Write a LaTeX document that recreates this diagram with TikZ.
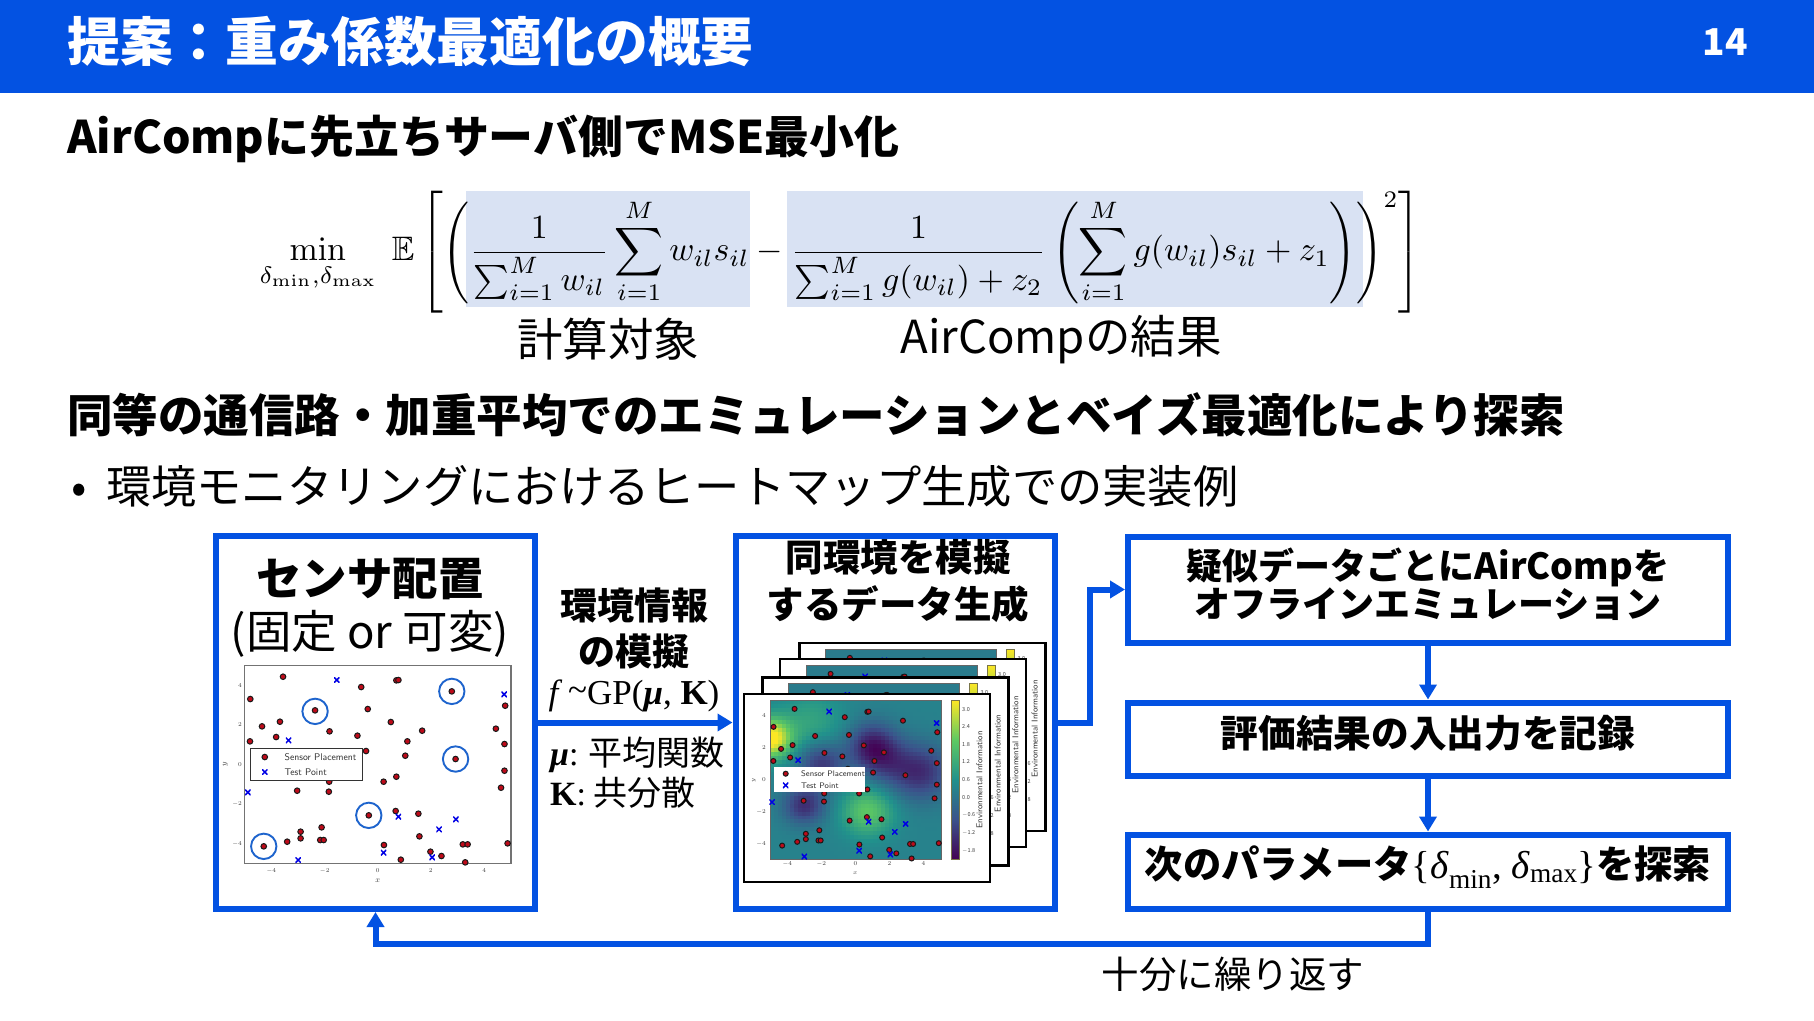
\documentclass[tikz,border=0pt]{standalone}
\usepackage{amsmath,amssymb}
\usepackage[no-math]{fontspec}
\setmainfont{Noto Sans CJK JP}
\newfontfamily\serifjp{Liberation Serif}
\usetikzlibrary{arrows.meta,calc}
\definecolor{slideblue}{RGB}{3,82,226}
\definecolor{ringblue}{RGB}{30,100,205}
\definecolor{eqbg}{RGB}{217,226,243}
\definecolor{ptred}{RGB}{190,10,25}
\definecolor{v0}{RGB}{68,1,84}
\definecolor{v1}{RGB}{59,82,139}
\definecolor{v2}{RGB}{33,145,140}
\definecolor{v3}{RGB}{94,201,98}
\definecolor{v4}{RGB}{253,231,37}
\pgfdeclareverticalshading{viridisbar}{100bp}{color(0bp)=(v0); color(25bp)=(v0); color(37.5bp)=(v1); color(50bp)=(v2); color(62.5bp)=(v3); color(75bp)=(v4); color(100bp)=(v4)}
\newcommand\fsz[2]{\fontsize{#1}{#2}\selectfont}
\newcommand\GB[4]{+(#4)*exp(-((\X-(#1))^2+(\Y-(#2))^2)/(2*(#3)^2))}
\newcommand\VIR[5]{\fpeval{round(\V<.25 ? #1+(#2-#1)*\V/.25 : (\V<.5 ? #2+(#3-#2)*(\V-.25)/.25 : (\V<.75 ? #3+(#4-#3)*(\V-.5)/.25 : #4+(#5-#4)*(\V-.75)/.25)),3)}}
\newcommand\sensorpts[1]{%
  \foreach \px/\py in {334/571,731/514,742/717,490/886,185/979,241/470,468/501,570/481,576/480,146/537,487/567,886/557,232/605,180/619,554/606,645/632,859/626,376/634,221/651,457/647,145/664,602/664,884/672,482/693,596/707,375/785,282/812,374/815,533/785,570/770,884/752,874/803,568/873,634/881,353/922,292/935,292/955,253/965,349/960,359/960,637/949,534/975,669/995,701/1008,583/1019,763/973,777/973,893/970,770/1027}
    \filldraw[sensordot] (\px,\py) circle[radius=#1pt];
  \foreach \px/\py in {397/480,883/523,257/661,139/817,576/890,743/898,694/928,533/998,674/1012,285/1020}
    \node[testcross] at (\px,\py) {};
}
\tikzset{
  box/.style={draw=slideblue,line width=6pt,fill=white,inner sep=0pt},
  flow/.style={draw=slideblue,line width=6pt,-{Triangle[length=15pt,width=17pt]}},
  sensordot/.style={fill=ptred,draw=black!90,line width=1pt},
  testcross/.style={inner sep=0pt,minimum size=5.5pt,path picture={\draw[blue!90!black,line width=1.5pt] (path picture bounding box.south west)--(path picture bounding box.north east) (path picture bounding box.north west)--(path picture bounding box.south east);}},
  tick/.style={font=\fsz{6}{7},text=black!75,inner sep=0pt},
  ring/.style={draw=ringblue,line width=1.9pt},
  legendtxt/.style={anchor=west,font=\sffamily\fsz{9.7}{10},inner sep=0pt,text=black!80},
  card/.style={draw=black,line width=2.8pt,fill=white},
  txt/.style={inner sep=0pt},
}
\newcommand\cbarstuff{%
  \fill[shading=viridisbar,draw=black!60!yellow,line width=.6pt] (951.3,700) rectangle (959.3,859.3);
  \foreach \tv/\ty in {3.0/268,2.4/320,1.8/373,1.2/426,0.6/479,0.0/532,$-$0.6/585,$-$1.2/638,$-$1.8/692}
    \node[tick,anchor=west,font=\fsz{5.5}{6}] (cb\ty) at (962,620+\ty/3) {\tv};
  \node[txt,rotate=90,font=\sffamily\fsz{8.5}{9},text=black!80] (cl) at (979.3,780) {Environmental Information};
}
\newcommand\backcard[2]{%
  \begin{scope}[shift={(#1,#2)}]
    \path[card] (744,694) rectangle (990,882);
    \fill[draw=black!60,line width=.6pt,fill=v1!35!v2] (770,700) rectangle (941,859.3);
    \cbarstuff
    \begin{scope}[shift={(770,700)},x=.2212pt,y=-.2686pt,shift={(-130,-437)}]
      \sensorpts{2.5}
    \end{scope}
  \end{scope}
}
\begin{document}
\begin{tikzpicture}[x=1pt,y=-1pt]
\useasboundingbox (0,0) rectangle (1814,1020);
\fill[white] (0,0) rectangle (1814,1020);
% header
\fill[slideblue] (0,0) rectangle (1814,93);
\node[txt,anchor=west,text=white,font=\bfseries\fsz{52.8}{54}] (title) at (67,42) {提案：重み係数最適化の概要};
\node[txt,text=white,font=\bfseries\fsz{37}{39}] (pageno) at (1725,42) {14};
\node[txt,anchor=west,font=\bfseries\fsz{44.9}{46}] (h1) at (67,139) {AirCompに先立ちサーバ側でMSE最小化};
% equation
\fill[eqbg] (465.5,191) rectangle (750,306.5);
\fill[eqbg] (786.5,191) rectangle (1362.5,306.5);
\node[txt,scale=3.39,transform shape] (eq) at (840.5,252.5) {$\displaystyle
\min_{\delta_{\min},\delta_{\max}}\hspace{3pt}\mathbb{E}\left[\left(\frac{1}{\sum_{i=1}^{M}w_{il}}\sum_{i=1}^{M}w_{il}s_{il}-\frac{1}{\sum_{i=1}^{M}g(w_{il})+z_2}\left(\sum_{i=1}^{M}g(w_{il})s_{il}+z_1\right)\right)^{2}\right]$};
\node[txt,font=\fsz{45.5}{47}] (lab1) at (608,339) {計算対象};
\node[txt,font=\fsz{45.5}{47}] (lab2) at (1061,340) {AirCompの結果};
\node[txt,anchor=west,font=\bfseries\fsz{45.5}{47}] (h2) at (67,415) {同等の通信路・加重平均でのエミュレーションとベイズ最適化により探索};
\node[txt,anchor=west,font=\fsz{45.3}{46}] (bul) at (71,486) {•\hspace{19.5pt}環境モニタリングにおけるヒートマップ生成での実装例};
% boxes
\node[box,minimum width=319pt,minimum height=373pt] (box1) at (375.5,722.5) {};
\node[box,minimum width=319pt,minimum height=373pt] (box2) at (895,722.5) {};
\node[box,minimum width=600pt,minimum height=106pt] (box3) at (1428,589.5) {};
\node[box,minimum width=600pt,minimum height=73pt] (box4) at (1428,739) {};
\node[box,minimum width=600pt,minimum height=74pt] (box5) at (1428,871.5) {};
\node[txt,align=center,font=\bfseries\fsz{36}{38.4}] (box3t) at (1428,584.5) {疑似データごとにAirCompを\\オフラインエミュレーション};
\node[txt,font=\bfseries\fsz{37.7}{39}] (box4t) at (1428,733) {評価結果の入出力を記録};
\node[txt,font=\bfseries\fsz{38.3}{39}] (box5t) at (1428,867) {次のパラメータ{\serifjp\mdseries\fsz{39}{39}\{\textit{δ}\textsubscript{min}, \textit{δ}\textsubscript{max}\}}を探索};
% labels
\node[txt,align=center,font=\fsz{45.5}{53}] (box1t) at (370,608) {\textbf{センサ配置}\\(固定 or 可変)};
\node[txt,align=center,font=\bfseries\fsz{37}{46}] (envt) at (634,628) {環境情報\\の模擬};
\node[txt,font=\fsz{35}{38}\serifjp] (gp) at (634,696) {\textit{f}\,\raisebox{.1em}{\textasciitilde}GP(\textbf{\textit{μ}}, \textbf{K})};
\node[txt,anchor=west,align=left,font=\fsz{34}{40}] (muk) at (550,773) {{\serifjp\textbf{\textit{μ}}:} 平均関数\\{\serifjp\textbf{K}:} 共分散};
\node[txt,align=center,font=\bfseries\fsz{37.5}{47}] (box2t) at (898,581) {同環境を模擬\\するデータ生成};
\node[txt,font=\fsz{37.5}{39}] (rep) at (1233,974) {十分に繰り返す};
% plot 1
\draw[draw=black!55,line width=1.3pt,fill=white] (244.8,665.7) rectangle (511,863.3);
\begin{scope}[shift={(244.8,665.7)},x=.3444pt,y=-.3333pt,shift={(-130,-437)}]
  \foreach \cx/\cy in {334/574,731/514,742/717,490/886,185/979}
    \draw[ring] (\cx,\cy) circle[radius=12.7pt];
  \sensorpts{2.8}
  \filldraw[fill=white,draw=black!80,line width=1pt] (146,686) rectangle (473,781);
  \filldraw[sensordot] (188,711) circle[radius=2.8pt];
  \node[testcross] at (188,756) {};
  \node[legendtxt] (ls1) at (245,711) {Sensor Placement};
  \node[legendtxt] (lt1) at (245,756) {Test Point};
  \foreach \tv/\tx in {$-4$/207,$-2$/362,$0$/516,$2$/670,$4$/825} \node[tick] (xa\tx) at (\tx,1052) {\tv};
  \foreach \tv/\ty in {$4$/496,$2$/615,$0$/734,$-2$/853,$-4$/972} \node[tick,anchor=east] (ya\ty) at (122,\ty) {\tv};
  \node[tick,font=\fsz{8}{8}] (xl1) at (516,1082) {$x$};
  \node[tick,rotate=90,font=\fsz{8}{8}] (yl1) at (74,733) {$y$};
\end{scope}
% stacked heat-map cards
\backcard{55.3}{-51}
\backcard{36}{-35}
\backcard{18.3}{-16.7}
\path[card] (744,694) rectangle (990,882);
\begin{scope}
  \clip (770,700) rectangle (941,859.3);
  \foreach \ci in {0,...,42}{
    \foreach \cj in {0,...,39}{
      \edef\X{\fpeval{-5+(\ci+.5)*10/43}}
      \edef\Y{\fpeval{5-(\cj+.5)*10/40}}
      \edef\V{\fpeval{round(min(.999,max(.001,0.44\GB{-5}{2.6}{.85}{.62}\GB{-2.6}{3.6}{1.3}{.14}\GB{1}{2.1}{1.0}{-.36}\GB{-2}{1}{.95}{-.28}\GB{-3}{-1.6}{.85}{-.3}\GB{3.8}{.5}{1.2}{-.3}\GB{1.9}{1}{1.0}{-.14}\GB{.7}{-2}{1.05}{.3})),4)}}
      \edef\hr{\VIR{.267}{.231}{.129}{.369}{.992}}
      \edef\hg{\VIR{.004}{.322}{.569}{.788}{.906}}
      \edef\hb{\VIR{.329}{.545}{.549}{.384}{.145}}
      \definecolor{hc}{rgb}{\hr,\hg,\hb}
      \fill[hc] ({770+\ci*171/43},{700+\cj*159.3/40}) rectangle +(4.6,4.6);
    }
  }
\end{scope}
\draw[draw=black!60,line width=.6pt] (770,700) rectangle (941,859.3);
\cbarstuff
\begin{scope}[shift={(770,700)},x=.2212pt,y=-.2686pt,shift={(-130,-437)}]
  \sensorpts{2.5}
\end{scope}
\fill[white] (774.3,767) rectangle (864.7,792.3);
\filldraw[sensordot] (785.7,773.7) circle[radius=2.5pt];
\node[testcross] at (785.7,785.3) {};
\node[legendtxt,font=\sffamily\fsz{8.1}{9}] (ls2) at (801,773.7) {Sensor Placement};
\node[legendtxt,font=\sffamily\fsz{8.1}{9}] (lt2) at (801,785.3) {Test Point};
\foreach \tv/\tx in {$-4$/172,$-2$/274,$0$/376,$2$/478,$4$/580} \node[tick] (xb\tx) at (730+\tx/3,864) {\tv};
\foreach \tv/\ty in {$4$/288,$2$/384,$0$/480,$-2$/576,$-4$/671} \node[tick,anchor=east] (yb\ty) at (766,620+\ty/3) {\tv};
\node[tick] (xl2) at (855.3,873.3) {$x$};
\node[tick,rotate=90] (yl2) at (754,780) {$y$};
% connectors
\coordinate (elbow) at (1090,589.5);
\coordinate (fb) at (375.5,944);
\draw[flow] (box1.east) -- (box2.west);
\draw[flow] (box2.east) -| (elbow) -- (box3.west);
\draw[flow] (box3.south) -- (box4.north);
\draw[flow] (box4.south) -- (box5.north);
\draw[flow] (box5.south) |- (fb) -- (box1.south);
\end{tikzpicture}
\end{document}
